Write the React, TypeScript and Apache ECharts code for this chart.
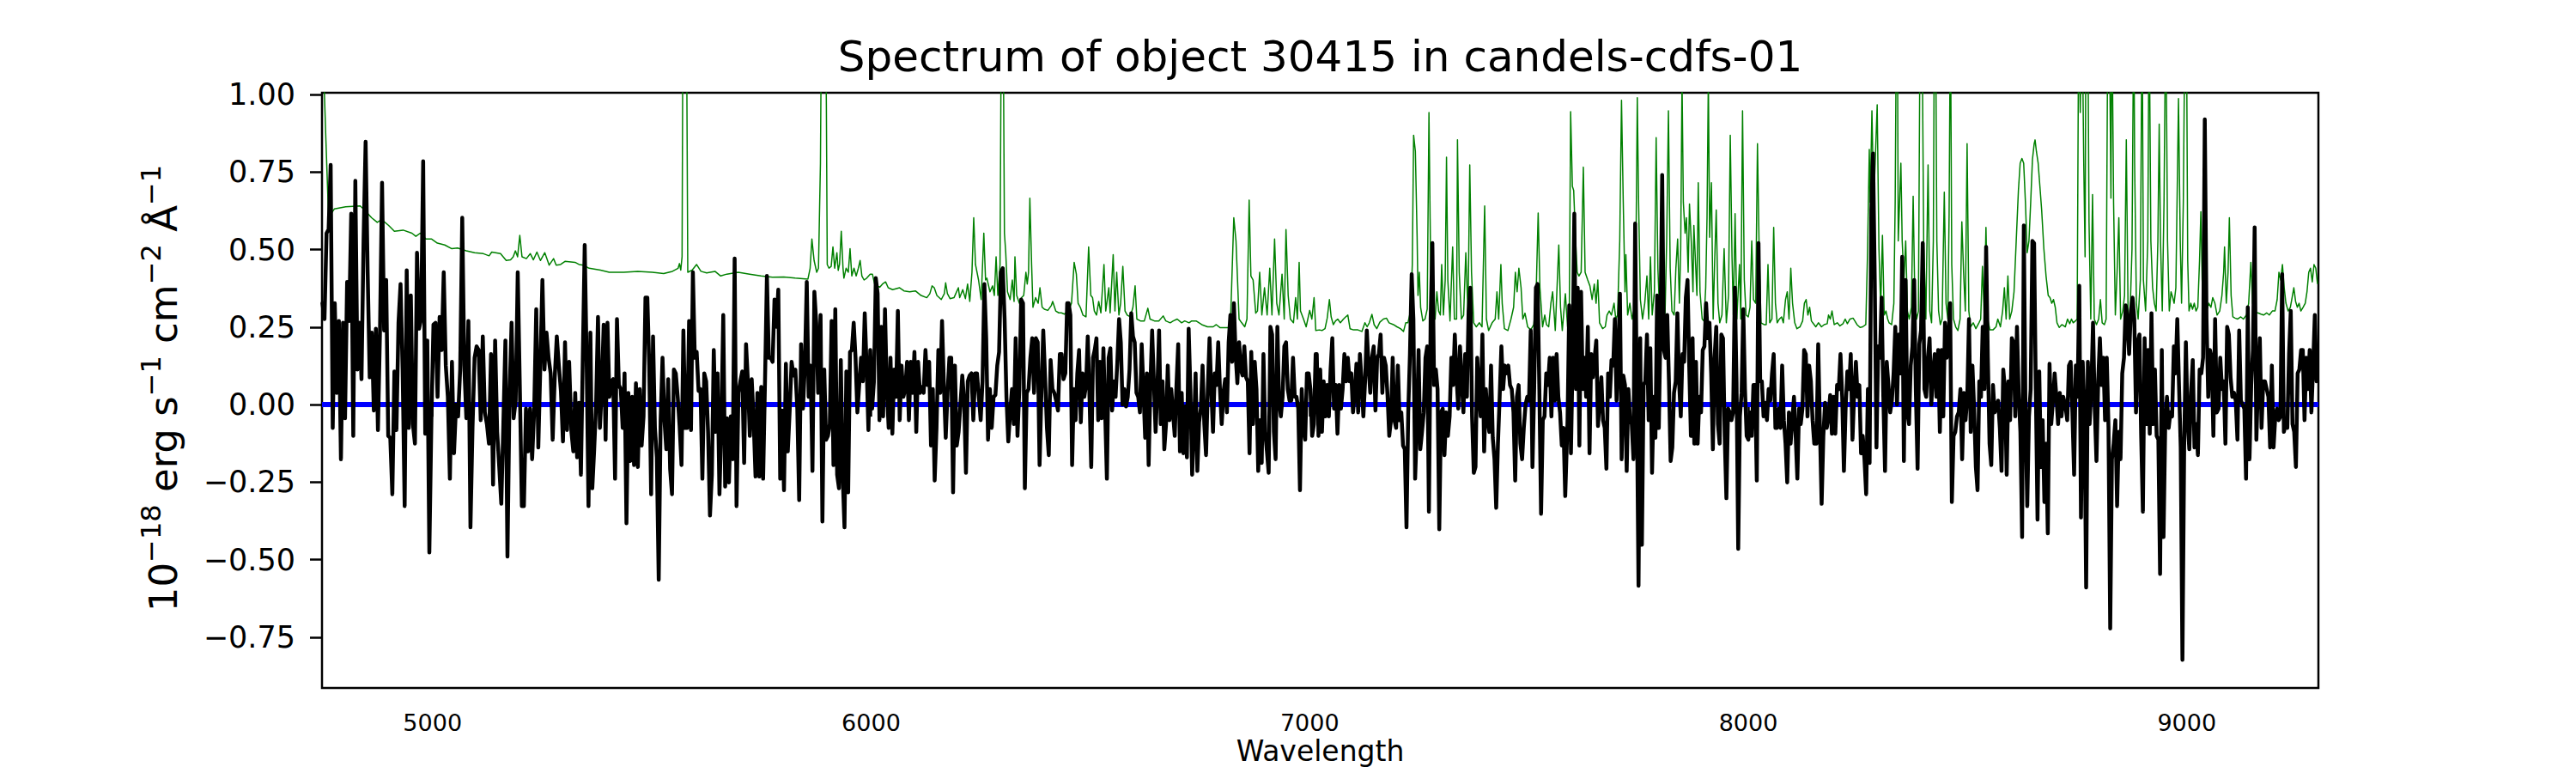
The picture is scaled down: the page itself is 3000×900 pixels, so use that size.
import React, { useEffect, useRef } from "react";
import * as echarts from "echarts";

const TITLE = "Spectrum of object 30415 in candels-cdfs-01";
const X_LABEL = "Wavelength";
const X_MIN = 4748;
const X_MAX = 9300;
const Y_MIN = -0.914;
const Y_MAX = 1.006;
const X_TICKS = [5000, 6000, 7000, 8000, 9000];
const Y_TICKS = [-0.75, -0.5, -0.25, 0, 0.25, 0.5, 0.75, 1.0];
const ZERO_LEVEL = 0;

// wavelength range covered by each block of flux readings
const FLUX_RANGES = [
  [4749, 5311.5],
  [5316.7, 5879.3],
  [5880.6, 6447.1],
  [6450.4, 7013.6],
  [7016.2, 7582.7],
  [7588, 8150.5],
  [8155.6, 8718.2],
  [8723.4, 9295.8],
];

const FLUX_1 = [0.327, 0.276, 0.553, 0.565, 0.773, -0.075, 0.327, 0.038, 0.270, -0.176, 0.264, -0.044, 0.396, 0.270, 0.616, -0.101, 0.722, 0.113, 0.264, 0.082, 0.528, 0.848, 0.427, 0.088, 0.232, -0.019, 0.245, -0.082, 0.239, 0.716, 0.239, 0.402, -0.101, -0.107, -0.289, 0.107, -0.082, 0.264, 0.389, 0.113, -0.327, 0.433, -0.075, 0.352, -0.063, -0.126, 0.490, 0.245, 0.276, 0.785, -0.094, 0.207, -0.477, -0.050, 0.258, 0.264, 0.025, 0.283, 0.176, 0.427, 0.126, 0.025, -0.239, 0.138, -0.157, 0, -0.038, 0.113, 0.603, 0.126, -0.044, 0.270, -0.396, -0.075, 0.151, 0.188, 0.176, -0.050, 0.220, -0.025, -0.063, -0.126, 0.163, -0.258, 0.207, -0.088, -0.201, -0.320, -0.063, 0.207, -0.490, 0.025, 0.264, -0.044, 0.013, 0.427, 0.063, -0.327, -0.327, -0.013, -0.151, -0.013, -0.176, -0.019, 0.308, -0.138, 0.126, 0.402, 0.113, 0.232, 0.151, 0.101, -0.113, 0.088, 0.220, 0.126, 0.044, -0.119, 0.201, -0.082, 0.138];
const FLUX_2 = [-0.088, -0.151, 0.038, -0.170, 0.006, -0.226, 0.151, 0.515, 0.151, -0.327, 0.232, -0.270, -0.144, 0, 0.283, -0.075, 0.050, 0.258, -0.113, 0.264, 0.025, 0.075, 0.082, -0.239, 0.276, 0.063, 0.050, -0.075, 0.101, -0.383, 0.038, -0.182, 0.025, -0.195, 0.069, -0.201, 0.050, -0.132, -0.038, 0.345, 0.345, 0.126, -0.289, 0.220, -0.075, -0.170, -0.565, -0.050, 0.151, -0.050, -0.144, 0.082, -0.207, -0.289, 0.113, 0.101, 0.025, -0.069, -0.195, 0.239, -0.075, -0.075, 0.270, -0.082, 0.427, 0.151, 0.170, 0.044, 0.050, -0.239, 0.101, 0.075, -0.088, -0.358, -0.226, 0.176, -0.088, 0.101, -0.289, -0.063, 0.289, -0.264, -0.044, -0.251, -0.038, -0.176, 0.471, -0.327, 0.038, 0.075, 0.107, -0.188, 0.195, 0.075, -0.101, 0.082, -0.050, -0.232, 0.038, -0.232, 0.057, -0.239, 0.075, 0.415, 0.151, 0.151, 0.138, 0.339, 0.251, 0.371, -0.239, -0.019, -0.276, 0.132, -0.151, -0.019, 0.138, 0.094, 0.113, -0.013, -0.308, 0.195, -0.013, 0.126, 0.396, 0.025, 0.126, -0.214, 0.364, 0.264, 0.038];
const FLUX_3 = [0.038, 0.289, -0.377, 0.113, -0.113, -0.101, -0.063, 0.270, -0.195, 0.308, -0.226, -0.270, 0.144, -0.226, -0.396, 0.107, -0.283, 0.170, 0.176, 0.264, 0.151, -0.025, 0.063, 0.151, 0.075, 0.295, 0.126, -0.082, 0.176, -0.013, 0.075, 0.408, 0.358, -0.050, 0.251, -0.038, 0.308, 0.050, -0.075, 0.151, -0.094, 0.113, 0.025, 0.302, -0.050, 0.126, 0.025, 0.050, 0.138, -0.050, 0.138, 0.038, 0.170, -0.088, 0.138, 0.038, 0.057, 0.038, 0.176, 0.063, 0.138, -0.132, 0.050, -0.245, -0.075, 0.176, 0.038, 0.270, 0.063, -0.107, 0.038, 0.151, 0.151, -0.283, 0.126, -0.132, -0.088, 0, 0.094, 0.013, -0.220, 0.075, 0.094, 0.101, -0.050, 0.101, 0.101, 0.025, -0.050, 0.075, 0.389, 0.214, -0.113, 0.050, -0.075, 0.025, 0.031, 0.126, 0.170, 0.427, 0.440, 0.276, 0.025, -0.119, -0.025, 0.050, -0.063, 0.214, -0.101, 0.050, 0.339, 0.327, -0.270, 0.038, 0.050, 0.151, 0.214, 0.038, 0.214, 0.201, -0.195, 0.038, 0.239, 0.088, -0.075, -0.163, 0.144, 0.050, 0.038, 0.013, -0.019, 0.163, 0.163, 0.082, 0.101, 0.327];
const FLUX_4 = [0.327, 0.289, -0.195, 0.050, -0.050, 0.101, 0.176, -0.057, 0.101, 0.025, 0.063, 0.220, 0.025, -0.201, 0.151, 0.176, 0.214, -0.050, 0.138, -0.044, 0.182, -0.025, -0.239, 0.151, 0.182, -0.019, 0.075, 0.025, 0.138, 0.276, 0.201, 0, 0.050, -0.006, 0.025, 0.113, 0.295, 0.220, 0.201, 0.038, 0.025, -0.025, 0.195, 0.050, -0.107, 0.101, -0.195, 0.063, 0.239, 0.075, -0.088, 0.050, 0.239, -0.063, 0.075, -0.144, -0.063, 0.126, -0.050, 0.050, -0.025, -0.101, 0.063, 0.195, -0.151, 0.038, -0.157, -0.006, -0.170, 0.245, 0.050, -0.226, -0.088, 0.101, -0.214, -0.057, -0.013, 0.126, -0.063, -0.163, 0.050, 0.214, 0.050, -0.088, 0.101, 0.063, 0.201, 0.050, -0.063, 0.038, 0.082, -0.025, 0.201, 0.289, 0.138, 0.327, 0.163, 0.069, 0.201, 0.113, 0.094, 0.188, 0.088, 0.075, -0.157, 0.170, -0.063, 0.138, 0.050, -0.214, -0.050, -0.188, 0.163, -0.088, -0.151, -0.220, 0.251, 0.226, -0.088, -0.176, 0.251, 0.013, -0.038, 0.025, 0.188, 0.201, 0.050, 0.013, 0.013, 0.151, 0.025, 0.025, -0.013, -0.276, 0.050, -0.075, -0.113, 0.101, 0.101, 0.050, -0.101, -0.063, 0.163];
const FLUX_5 = [0.163, -0.101, 0.113, -0.088, 0.075, -0.038, 0.063, -0.038, 0.113, 0.214, -0.013, 0.063, -0.094, 0.063, -0.013, 0.050, 0.163, 0.075, 0.151, 0.075, 0.101, -0.025, 0.038, 0.132, -0.025, 0.163, 0.075, -0.038, 0.075, 0.239, 0.126, 0.038, 0.151, 0.188, -0.019, 0.151, 0.163, 0.226, 0.038, 0.151, 0.126, 0.031, -0.101, -0.050, 0.151, -0.050, -0.075, 0.126, -0.050, -0.025, -0.132, -0.144, -0.396, -0.025, 0.163, 0.421, 0.276, -0.239, -0.075, 0.176, -0.144, -0.088, -0.025, 0.151, 0.188, -0.345, 0.276, 0.521, 0.063, 0.113, 0.050, -0.402, -0.025, -0.013, -0.163, -0.025, -0.101, -0.038, 0.151, 0.063, 0.226, 0.088, -0.013, 0.188, 0.075, -0.025, 0.163, 0.025, 0.302, 0.377, -0.038, -0.220, -0.201, 0.151, 0.050, -0.038, 0.226, -0.151, 0.050, -0.050, -0.088, 0.126, -0.107, -0.176, -0.333, -0.126, 0.025, 0.188, 0.050, 0.126, 0.101, 0.126, 0.063, 0.050, -0.025, -0.245, 0.025, 0.063, -0.126, -0.176, -0.075, 0, 0.025, 0.013, 0.239, -0.201, 0.050, 0.377, 0.389, 0.050, -0.352, -0.050, -0.038, 0.101, 0.063, 0.151, -0.038, 0.151, 0.013, 0.163, 0.025, -0.025, -0.132, -0.075, -0.295];
const FLUX_6 = [-0.050, 0.320, -0.157, 0.151, 0.616, 0.050, 0.377, -0.132, 0.364, 0.050, 0.151, 0.025, 0.251, -0.157, 0.163, 0.088, 0.151, 0.207, -0.069, 0.013, 0.088, -0.050, -0.075, -0.207, 0.101, 0.025, 0.144, 0.126, 0.276, 0.013, 0.157, 0.358, -0.176, 0.094, 0.063, -0.214, 0.050, -0.050, -0.063, -0.176, 0.584, 0.025, -0.584, 0.214, -0.452, 0.063, 0.075, 0.226, -0.050, 0.182, -0.220, 0.025, -0.107, 0.352, -0.075, 0.251, 0.741, 0.176, 0.151, 0.289, 0.075, -0.182, -0.138, 0.038, 0.075, 0.295, 0.075, -0.038, 0.163, 0.138, 0.345, 0.402, 0.126, -0.101, 0.214, -0.126, 0.138, -0.126, 0.025, -0.025, 0.176, 0.188, 0.327, 0.214, 0.264, 0.101, -0.144, 0.151, 0.251, -0.063, -0.126, 0.226, 0.214, -0.101, -0.302, -0.013, -0.025, -0.050, -0.025, 0.377, 0.075, -0.465, -0.038, 0.038, 0.308, 0.050, -0.101, -0.113, -0.025, -0.101, 0.063, 0.063, -0.245, 0.521, 0.075, 0.075, -0.038, 0.006, -0.050, 0.050, 0.013, 0.101, 0.163, -0.075, -0.075, -0.013, -0.075, 0.126, -0.050, -0.126, -0.251, -0.025, -0.126, -0.050, 0.025, -0.101, -0.239, -0.013, -0.063, -0.013, 0.176, 0.163, -0.038, 0.126, 0.075, -0.050, -0.126];
const FLUX_7 = [-0.126, 0.195, -0.075, -0.320, -0.101, 0.006, -0.075, -0.038, 0.031, -0.094, 0.025, -0.094, 0.063, 0.050, 0.163, 0.025, -0.214, -0.013, 0.107, 0.050, 0.163, -0.113, 0.038, 0.138, 0.025, 0.063, -0.157, -0.101, -0.176, -0.289, 0.050, -0.188, 0.628, 0.810, 0.402, -0.138, 0.188, 0.151, 0.345, 0.025, -0.214, 0.138, 0.063, -0.025, 0.013, 0.101, 0.251, 0, 0.226, 0.101, 0.477, -0.182, 0.402, -0.025, -0.063, 0.126, 0.188, 0.402, 0.038, -0.207, 0.195, 0.239, 0.521, 0.050, 0.025, 0.151, 0.214, 0, 0.101, 0.163, 0.025, 0.176, -0.088, 0.176, -0.038, 0.264, 0.151, 0.214, 0.327, -0.314, -0.101, -0.088, -0.038, -0.025, 0.050, -0.176, 0.038, -0.050, 0.025, 0.276, -0.088, 0.126, -0.013, -0.201, -0.276, 0.075, 0.025, 0.251, 0.050, 0.509, 0.151, -0.126, -0.195, 0.063, -0.025, -0.013, 0.013, -0.075, -0.214, 0.113, 0.050, -0.226, 0.075, -0.050, 0.214, 0.201, -0.038, 0.251, 0.038, -0.088, -0.427, 0.578, -0.038, -0.327, -0.038, 0.050, 0.528, 0.521, 0.050, -0.371, 0.107, -0.201, -0.050, -0.314, -0.126, -0.415, 0.132, -0.063, 0.013, 0.101, 0.025, -0.063, 0.038, -0.038, 0.025];
const FLUX_8 = [-0.006, -0.050, 0.126, 0.138, -0.025, -0.226, 0.126, 0.025, 0.383, -0.364, 0.138, -0.013, -0.590, 0.138, -0.063, 0.050, 0.264, -0.013, -0.182, 0.075, 0.214, 0.063, 0.151, -0.050, 0.151, -0.075, -0.722, -0.176, -0.126, -0.050, -0.327, -0.088, -0.176, 0.101, 0.151, 0.320, 0.276, 0.163, 0.302, 0.345, 0.276, -0.025, 0.201, 0.226, -0.101, -0.345, 0.214, -0.063, 0.176, -0.094, 0.295, -0.063, 0.113, -0.101, -0.113, -0.546, 0.176, -0.427, -0.063, 0.025, -0.075, -0.025, -0.038, 0.188, 0.101, 0.276, 0.063, -0.138, -0.823, -0.138, 0.201, -0.050, -0.144, 0.038, 0.144, -0.138, -0.063, -0.163, 0.113, 0.101, 0.151, 0.920, 0.276, 0.025, 0.176, 0.151, -0.101, 0.276, -0.025, -0.013, 0.151, 0.050, 0.075, -0.126, 0.251, 0.226, 0.088, 0.025, 0.038, 0.013, -0.113, 0.239, 0.013, 0, -0.013, -0.239, 0.314, -0.176, 0.063, 0.176, 0.572, -0.113, 0.075, 0.214, -0.075, 0.075, 0.075, 0.050, 0.025, -0.138, 0.126, -0.138, -0.038, -0.013, -0.050, -0.038, 0.421, -0.088, -0.063, -0.075, 0.163, 0.302, -0.063, -0.088, -0.201, 0.101, 0.113, 0.176, 0.176, -0.050, 0.151, 0.050, 0.176, -0.025, 0.126, 0.289, 0.075];

// error spectrum: [wavelength, value]
const ERR_1 = [[4749, 1.2], [4757, 0.85], [4763, 0.603], [4776, 0.631], [4802, 0.638], [4835, 0.641], [4845, 0.628], [4861, 0.603], [4874, 0.588], [4884, 0.597], [4900, 0.578], [4913, 0.559], [4933, 0.563], [4953, 0.553], [4962, 0.543], [4972, 0.553], [4985, 0.534], [4998, 0.534], [5011, 0.521], [5028, 0.515], [5044, 0.503], [5057, 0.505], [5077, 0.496], [5096, 0.490], [5116, 0.487], [5129, 0.480], [5135, 0.492], [5155, 0.487], [5168, 0.465], [5178, 0.467], [5184, 0.477], [5189, 0.496], [5194, 0.477], [5199, 0.546], [5204, 0.477], [5214, 0.471], [5223, 0.487], [5230, 0.467], [5238, 0.492], [5246, 0.465], [5256, 0.490], [5266, 0.450], [5276, 0.471], [5282, 0.450], [5292, 0.452], [5302, 0.462]];
const ERR_2 = [[5325, 0.459], [5334, 0.452], [5344, 0.450], [5357, 0.440], [5383, 0.434], [5403, 0.427], [5436, 0.427], [5468, 0.430], [5501, 0.427], [5527, 0.423], [5547, 0.430], [5560, 0.440], [5563, 0.455], [5566, 0.434], [5569, 0.477], [5571, 1.3], [5579, 1.3], [5582, 0.427], [5592, 0.434], [5602, 0.452], [5612, 0.430], [5625, 0.425], [5644, 0.430], [5657, 0.415], [5671, 0.421], [5697, 0.427], [5723, 0.421], [5749, 0.415], [5775, 0.411], [5801, 0.412], [5827, 0.408], [5856, 0.405], [5861, 0.440], [5865, 0.534], [5870, 0.465], [5876, 0.427]];
const ERR_3 = [[5880, 0.440], [5884.5, 0.779], [5887, 1.3], [5896, 1.3], [5898, 0.967], [5900, 0.452], [5904, 0.440], [5909, 0.446], [5913, 0.509], [5917, 0.440], [5922, 0.490], [5925, 0.433], [5928, 0.452], [5932, 0.559], [5936, 0.440], [5938, 0.408], [5943, 0.440], [5948, 0.427], [5952, 0.503], [5956, 0.415], [5961, 0.440], [5966, 0.415], [5971, 0.440], [5975, 0.465], [5979, 0.415], [5984, 0.402], [5990, 0.408], [5998, 0.421], [6003, 0.421], [6008, 0.389], [6013, 0.383], [6020, 0.379], [6026, 0.389], [6033, 0.396], [6039, 0.377], [6049, 0.371], [6065, 0.377], [6075, 0.367], [6088, 0.364], [6101, 0.367], [6114, 0.352], [6127, 0.345], [6134, 0.358], [6139, 0.383], [6144, 0.377], [6150, 0.352], [6160, 0.339], [6167, 0.358], [6170, 0.393], [6174, 0.358], [6180, 0.342], [6189, 0.345], [6199, 0.377], [6202, 0.345], [6209, 0.371], [6215, 0.342], [6220, 0.389], [6225, 0.333], [6230, 0.427], [6234, 0.603], [6238, 0.452], [6245, 0.402], [6251, 0.339], [6257, 0.553], [6261, 0.402], [6264, 0.408], [6271, 0.364], [6277, 0.383], [6281, 0.352], [6285, 0.477], [6289, 0.352], [6294, 0.452], [6297, 1.3], [6301, 1.3], [6304, 0.553], [6307, 0.490], [6311, 0.364], [6317, 0.339], [6322, 0.402], [6326, 0.333], [6328, 0.477], [6332, 0.352], [6338, 0.327], [6343, 0.345], [6348, 0.352], [6353, 0.427], [6356, 0.389], [6359, 0.427], [6362, 0.666], [6366, 0.452], [6369, 0.314], [6375, 0.345], [6381, 0.327], [6385, 0.377], [6390, 0.314], [6395, 0.308], [6403, 0.304], [6411, 0.320], [6414, 0.333], [6421, 0.302], [6428, 0.296], [6434, 0.296], [6441, 0.292]];
const ERR_4 = [[6450, 0.302], [6457, 0.327], [6463, 0.459], [6468, 0.421], [6472, 0.327], [6477, 0.314], [6483, 0.289], [6490, 0.283], [6496, 0.509], [6501, 0.352], [6505, 0.345], [6509, 0.302], [6514, 0.289], [6519, 0.333], [6524, 0.296], [6531, 0.452], [6535, 0.302], [6542, 0.377], [6545, 0.296], [6552, 0.484], [6556, 0.302], [6560, 0.427], [6565, 0.289], [6569, 0.327], [6574, 0.446], [6579, 0.302], [6584, 0.289], [6591, 0.283], [6597, 0.314], [6602, 0.383], [6606, 0.276], [6614, 0.270], [6623, 0.270], [6631, 0.311], [6636, 0.276], [6646, 0.270], [6656, 0.270], [6666, 0.286], [6672, 0.270], [6682, 0.264], [6689, 0.270], [6698, 0.276], [6708, 0.264], [6715, 0.270], [6725, 0.264], [6731, 0.270], [6741, 0.270], [6754, 0.258], [6767, 0.251], [6780, 0.251], [6787, 0.258], [6796, 0.248], [6819, 0.248], [6822, 0.377], [6827, 0.603], [6832, 0.528], [6839, 0.276], [6845, 0.264], [6852, 0.251], [6857, 0.276], [6862, 0.660], [6866, 0.415], [6871, 0.402], [6877, 0.295], [6881, 0.302], [6886, 0.427], [6891, 0.289], [6897, 0.377], [6903, 0.289], [6909, 0.440], [6914, 0.289], [6920, 0.534], [6925, 0.327], [6930, 0.289], [6937, 0.421], [6942, 0.276], [6946, 0.565], [6951, 0.352], [6956, 0.276], [6963, 0.264], [6968, 0.345], [6972, 0.276], [6976, 0.459], [6979, 0.302], [6986, 0.276], [6992, 0.251], [7000, 0.304], [7005, 0.276], [7010, 0.345]];
const ERR_5 = [[7014, 0.239], [7022, 0.241], [7028, 0.239], [7035, 0.245], [7040, 0.279], [7045, 0.339], [7049, 0.283], [7054, 0.258], [7059, 0.270], [7064, 0.276], [7070, 0.264], [7077, 0.276], [7082, 0.283], [7087, 0.289], [7092, 0.245], [7100, 0.241], [7110, 0.241], [7119, 0.236], [7126, 0.264], [7131, 0.251], [7136, 0.264], [7142, 0.291], [7147, 0.258], [7153, 0.245], [7160, 0.266], [7168, 0.276], [7175, 0.279], [7181, 0.264], [7191, 0.258], [7199, 0.251], [7207, 0.245], [7214, 0.236], [7219, 0.264], [7224, 0.264], [7230, 0.302], [7234, 0.452], [7237, 0.869], [7241, 0.817], [7245, 0.540], [7247, 0.352], [7250, 0.427], [7253, 0.314], [7258, 0.270], [7263, 0.276], [7268, 0.308], [7272, 0.942], [7276, 0.427], [7281, 0.314], [7286, 0.276], [7290, 0.364], [7294, 0.302], [7298, 0.289], [7301, 0.452], [7305, 0.289], [7309, 0.402], [7312, 0.798], [7315, 0.402], [7320, 0.270], [7326, 0.509], [7330, 0.276], [7335, 0.276], [7337, 0.854], [7341, 0.427], [7346, 0.276], [7351, 0.289], [7356, 0.490], [7361, 0.289], [7365, 0.773], [7369, 0.427], [7374, 0.264], [7380, 0.251], [7387, 0.264], [7393, 0.251], [7399, 0.641], [7403, 0.276], [7408, 0.239], [7416, 0.264], [7423, 0.276], [7427, 0.364], [7431, 0.276], [7436, 0.452], [7439, 0.327], [7444, 0.245], [7452, 0.239], [7459, 0.276], [7465, 0.314], [7469, 0.427], [7473, 0.364], [7477, 0.440], [7482, 0.377], [7486, 0.276], [7491, 0.295], [7497, 0.251], [7504, 0.241], [7511, 0.258], [7516, 0.339], [7521, 0.618], [7525, 0.377], [7531, 0.251], [7536, 0.289], [7540, 0.258], [7545, 0.251], [7550, 0.327], [7554, 0.364], [7560, 0.239], [7564, 0.377], [7568, 0.515], [7572, 0.314], [7576, 0.239]];
const ERR_6 = [[7583, 0.358], [7588, 0.251], [7592, 0.302], [7595, 0.945], [7599, 0.704], [7602, 0.691], [7606, 0.540], [7610, 0.427], [7614, 0.415], [7619, 0.427], [7624, 0.766], [7628, 0.427], [7634, 0.402], [7639, 0.383], [7644, 0.339], [7649, 0.389], [7653, 0.327], [7657, 0.402], [7661, 0.264], [7668, 0.245], [7674, 0.251], [7678, 0.289], [7683, 0.302], [7688, 0.289], [7694, 0.327], [7698, 0.276], [7702, 0.289], [7707, 0.528], [7711, 0.982], [7715, 0.653], [7719, 0.364], [7721, 0.484], [7725, 0.289], [7730, 0.327], [7735, 0.276], [7741, 0.314], [7744, 0.503], [7747, 0.990], [7750, 0.653], [7754, 0.339], [7759, 0.276], [7764, 0.327], [7769, 0.415], [7773, 0.276], [7777, 0.477], [7781, 0.289], [7786, 0.364], [7790, 0.861], [7794, 0.440], [7798, 0.289], [7802, 0.402], [7806, 0.314], [7810, 0.276], [7814, 0.528], [7818, 0.948], [7822, 0.440], [7826, 0.302], [7831, 0.289], [7835, 0.440], [7839, 0.534], [7843, 0.327], [7846, 0.503], [7849, 1.05], [7852, 0.653], [7856, 0.553], [7859, 0.603], [7863, 0.427], [7866, 0.647], [7870, 0.528], [7874, 0.364], [7876, 0.578], [7880, 0.452], [7883, 0.352], [7886, 0.716], [7890, 0.364], [7895, 0.276], [7899, 0.270], [7903, 0.377], [7906, 0.603], [7909, 1.05], [7912, 0.540], [7916, 0.716], [7920, 0.276], [7923, 0.440], [7927, 0.628], [7931, 0.327], [7935, 0.264], [7940, 0.289], [7945, 0.503], [7950, 0.264], [7955, 0.352], [7959, 0.869], [7963, 0.477], [7966, 0.289], [7970, 0.616], [7974, 0.276], [7980, 0.452], [7983, 0.276], [7987, 0.948], [7991, 0.402], [7995, 0.289], [8000, 0.283], [8004, 0.314], [8008, 0.528], [8012, 0.339], [8017, 0.327], [8021, 0.842], [8025, 0.490], [8029, 0.264], [8036, 0.258], [8041, 0.258], [8045, 0.452], [8049, 0.264], [8054, 0.276], [8058, 0.572], [8062, 0.327], [8066, 0.264], [8071, 0.276], [8076, 0.283], [8080, 0.264], [8085, 0.339], [8089, 0.364], [8093, 0.276], [8097, 0.440], [8101, 0.327], [8106, 0.264], [8111, 0.245], [8118, 0.251], [8124, 0.270], [8128, 0.327], [8132, 0.339], [8136, 0.289], [8140, 0.314], [8144, 0.270]];
const ERR_7 = [[8147, 0.264], [8154, 0.251], [8160, 0.264], [8167, 0.251], [8173, 0.258], [8180, 0.261], [8183, 0.289], [8187, 0.276], [8191, 0.302], [8196, 0.258], [8203, 0.264], [8209, 0.254], [8216, 0.261], [8221, 0.276], [8226, 0.261], [8232, 0.276], [8239, 0.279], [8243, 0.270], [8248, 0.258], [8255, 0.249], [8261, 0.251], [8268, 0.258], [8272, 0.490], [8276, 0.823], [8278, 0.653], [8282, 0.948], [8286, 0.653], [8290, 0.804], [8294, 0.967], [8298, 0.503], [8302, 0.314], [8306, 0.546], [8310, 0.289], [8314, 0.302], [8318, 0.276], [8321, 0.264], [8327, 0.258], [8332, 0.327], [8335, 0.653], [8338, 1.3], [8340, 1.3], [8342, 0.528], [8345, 0.653], [8348, 0.779], [8351, 0.528], [8355, 0.402], [8359, 0.528], [8363, 0.302], [8367, 0.276], [8372, 0.314], [8376, 0.672], [8380, 0.327], [8384, 0.276], [8388, 0.302], [8392, 1.3], [8396, 1.3], [8400, 0.528], [8405, 0.276], [8410, 0.773], [8414, 0.302], [8418, 0.264], [8422, 0.528], [8424.5, 1.3], [8427, 1.3], [8430, 0.528], [8434, 0.302], [8438, 0.258], [8442, 0.276], [8447, 0.685], [8451, 0.327], [8455, 0.276], [8458, 0.616], [8461, 1.3], [8464, 0.452], [8468, 0.276], [8473, 0.251], [8478, 0.239], [8483, 0.276], [8487, 0.590], [8491, 0.427], [8495, 0.302], [8499, 0.842], [8503, 0.302], [8507, 0.251], [8513, 0.264], [8519, 0.245], [8526, 0.264], [8530, 0.276], [8534, 0.446], [8538, 0.289], [8542, 0.572], [8546, 0.276], [8551, 0.241], [8558, 0.241], [8565, 0.251], [8569, 0.276], [8575, 0.251], [8580, 0.302], [8584, 0.377], [8588, 0.276], [8592, 0.415], [8596, 0.276], [8601, 0.302], [8606, 0.364], [8611, 0.528], [8616, 0.691], [8620, 0.779], [8624, 0.794], [8628, 0.779], [8632, 0.653], [8636, 0.490], [8640, 0.528], [8644, 0.653], [8648, 0.791], [8652, 0.842], [8654, 0.854], [8657, 0.817], [8661, 0.779], [8665, 0.704], [8669, 0.628], [8674, 0.503], [8679, 0.415], [8684, 0.352], [8688, 0.345], [8692, 0.327], [8696, 0.339], [8700, 0.314], [8704, 0.264], [8709, 0.249], [8715, 0.258]];
const ERR_8 = [[8723, 0.251], [8728, 0.276], [8733, 0.261], [8737, 0.276], [8741, 0.264], [8746, 0.270], [8750, 0.276], [8753.5, 1.3], [8757, 0.942], [8761, 1.3], [8765, 0.779], [8768, 0.477], [8770, 1.3], [8774, 1.3], [8777, 0.590], [8781, 0.276], [8785, 0.678], [8789, 0.276], [8794, 0.258], [8799, 0.276], [8803, 0.339], [8807, 0.264], [8812, 0.258], [8816, 0.276], [8820, 1.3], [8823, 1.3], [8827, 0.666], [8829, 1.3], [8833, 0.653], [8837, 0.289], [8841, 0.427], [8845, 0.603], [8849, 0.276], [8854, 0.302], [8858, 0.352], [8862, 0.854], [8866, 0.302], [8870, 0.264], [8875, 0.503], [8879, 1.3], [8881, 0.779], [8885, 0.327], [8889, 0.276], [8894, 0.402], [8898, 1.3], [8901, 0.402], [8906, 0.302], [8911, 0.528], [8914, 1.3], [8918, 0.528], [8922, 0.377], [8926, 0.327], [8930, 0.302], [8934, 0.528], [8937, 0.905], [8940, 0.528], [8944, 0.302], [8948, 0.653], [8952, 1.3], [8956, 0.528], [8960, 0.302], [8964, 0.364], [8968, 0.345], [8971, 0.327], [8975, 0.377], [8981, 0.987], [8985, 0.528], [8988, 0.327], [8992, 0.653], [8996, 1.3], [8999, 1.3], [9002, 0.465], [9005, 0.302], [9009, 0.327], [9013, 0.308], [9017, 0.327], [9021, 0.302], [9025, 0.314], [9029, 0.465], [9032, 0.622], [9035, 0.402], [9039, 0.289], [9045, 0.302], [9050, 0.327], [9055, 0.314], [9059, 0.345], [9064, 0.327], [9069, 0.289], [9075, 0.302], [9080, 0.352], [9084, 0.427], [9086, 0.509], [9090, 0.327], [9094, 0.427], [9097, 0.603], [9101, 0.352], [9105, 0.283], [9110, 0.279], [9116, 0.276], [9123, 0.283], [9129, 0.276], [9136, 0.289], [9141, 0.327], [9146, 0.459], [9150, 0.327], [9156, 0.296], [9162, 0.296], [9169, 0.292], [9175, 0.289], [9182, 0.296], [9188, 0.289], [9195, 0.302], [9201, 0.302], [9206, 0.339], [9210, 0.427], [9214, 0.402], [9218, 0.452], [9222, 0.377], [9226, 0.327], [9231, 0.302], [9236, 0.314], [9240, 0.345], [9244, 0.377], [9248, 0.333], [9252, 0.314], [9256, 0.327], [9260, 0.302], [9265, 0.314], [9270, 0.327], [9274, 0.364], [9278, 0.427], [9282, 0.440], [9286, 0.396], [9290, 0.452], [9294, 0.440], [9298, 0.389]];

const FLUX_BLOCKS = [FLUX_1, FLUX_2, FLUX_3, FLUX_4, FLUX_5, FLUX_6, FLUX_7, FLUX_8];
const ERR_BLOCKS = [ERR_1, ERR_2, ERR_3, ERR_4, ERR_5, ERR_6, ERR_7, ERR_8];

function buildFlux(): number[][] {
  const out: number[][] = [];
  FLUX_BLOCKS.forEach((vals, b) => {
    const [s, e] = FLUX_RANGES[b];
    const n = vals.length;
    vals.forEach((v, i) => {
      out.push([s + (i * (e - s)) / (n - 1), v]);
    });
  });
  return out;
}

const FONT = "DejaVu Sans";
const fmtY = (v: number) => v.toFixed(2).replace("-", "\u2212");

export default function App() {
  const ref = useRef<HTMLDivElement>(null);
  useEffect(() => {
    document.body.style.margin = "0";
    if (!ref.current) return;
    const chart = echarts.init(ref.current, null, { renderer: "svg" });
    const flux = buildFlux();
    const err = ([] as number[][]).concat(...ERR_BLOCKS);
    chart.setOption({
      animation: false,
      backgroundColor: "#ffffff",
      grid: {
        left: 375,
        right: 300,
        top: 108,
        bottom: 99,
        show: true,
        borderColor: "#000000",
        borderWidth: 2.5,
        backgroundColor: "transparent",
      },
      xAxis: {
        type: "value",
        min: X_MIN,
        max: X_MAX,
        axisLine: { show: false },
        splitLine: { show: false },
        axisTick: {
          show: true,
          inside: false,
          length: 14,
          lineStyle: { color: "#000", width: 2.5 },
          customValues: X_TICKS,
        },
        axisLabel: {
          customValues: X_TICKS,
          fontSize: 27,
          fontFamily: FONT,
          color: "#000",
          margin: 27,
          formatter: (v: number) => String(v),
        },
      },
      yAxis: {
        type: "value",
        min: Y_MIN,
        max: Y_MAX,
        axisLine: { show: false },
        splitLine: { show: false },
        axisTick: {
          show: true,
          inside: false,
          length: 14,
          lineStyle: { color: "#000", width: 2.5 },
          customValues: Y_TICKS,
        },
        axisLabel: {
          customValues: Y_TICKS,
          fontSize: 35,
          fontFamily: FONT,
          color: "#000",
          margin: 31,
          formatter: (v: number) => fmtY(v),
        },
      },
      series: [
        {
          type: "line",
          name: "error",
          data: err,
          showSymbol: false,
          symbol: "none",
          clip: true,
          lineStyle: { color: "#008000", width: 1.5, join: "round" },
          z: 2,
        },
        {
          type: "line",
          name: "zero",
          data: [
            [X_MIN, ZERO_LEVEL],
            [X_MAX, ZERO_LEVEL],
          ],
          showSymbol: false,
          symbol: "none",
          lineStyle: { color: "#0000ff", width: 6 },
          z: 3,
        },
        {
          type: "line",
          name: "flux",
          data: flux,
          showSymbol: false,
          symbol: "none",
          clip: true,
          lineStyle: { color: "#000000", width: 4.5, join: "round", cap: "round" },
          z: 4,
        },
      ],
      graphic: [
        {
          type: "text",
          x: 1537.5,
          y: 66,
          style: {
            text: TITLE,
            fontSize: 50,
            fontFamily: FONT,
            fill: "#000",
            align: "center",
            verticalAlign: "middle",
            textAlign: "center",
            textVerticalAlign: "middle",
          },
        },
        {
          type: "text",
          x: 1537.5,
          y: 874,
          style: {
            text: X_LABEL,
            fontSize: 33,
            fontFamily: FONT,
            fill: "#000",
            align: "center",
            verticalAlign: "middle",
            textAlign: "center",
            textVerticalAlign: "middle",
          },
        },
        {
          type: "text",
          x: 190,
          y: 452,
          rotation: Math.PI / 2,
          style: {
            text: "{m|10}{s|\u221218}{m| erg s}{s|\u22121}{m| cm}{s|\u22122}{m| \u00c5}{s|\u22121}",
            align: "center",
            verticalAlign: "middle",
            textAlign: "center",
            textVerticalAlign: "middle",
            fill: "#000",
            rich: {
              m: { fontSize: 45, fontFamily: FONT, lineHeight: 60, fill: "#000" },
              s: { fontSize: 32, fontFamily: FONT, lineHeight: 32, verticalAlign: "top", fill: "#000" },
            },
          },
        },
      ],
    });
    return () => {
      chart.dispose();
    };
  }, []);
  return (
    <div
      ref={ref}
      style={{ position: "absolute", left: 0, top: 0, width: 3000, height: 900 }}
    />
  );
}
